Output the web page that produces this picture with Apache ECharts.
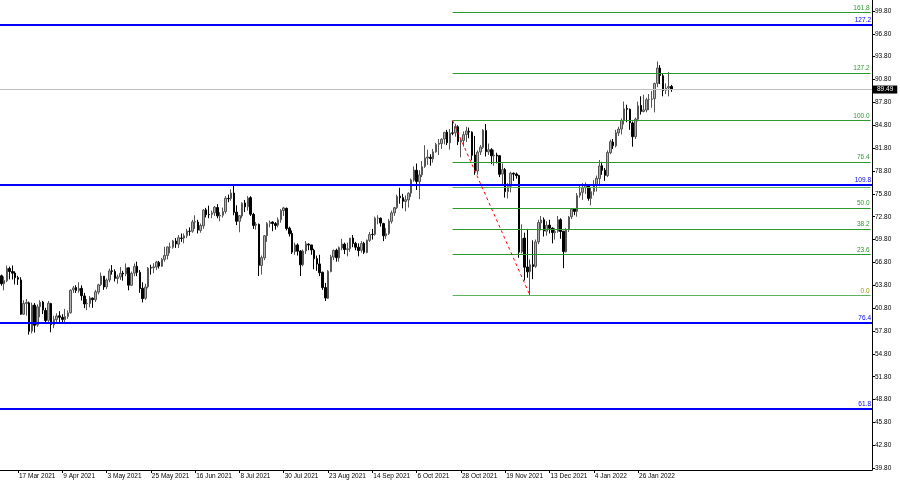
<!DOCTYPE html>
<html><head><meta charset="utf-8">
<script src="https://cdn.jsdelivr.net/npm/echarts@6/dist/echarts.min.js"></script>
<style>html,body{margin:0;padding:0;background:#fff}#c{width:900px;height:485px}</style>
</head><body><div id="c"></div>
<script>
// Daily candles, 9 Mar 2021 .. 11 Feb 2022 (one line per month)
const opens = [
65.05,64.0,64.4,66.0,65.6,65.4,64.8,64.5,60.0,61.4,61.5,57.8,61.2,58.6,61.0,61.6,60.5,
59.2,61.4,58.6,59.3,59.8,59.6,59.3,59.7,60.2,63.2,63.5,63.1,63.4,62.4,61.4,61.4,62.1,61.9,62.9,63.9,65.0,
63.6,64.5,65.7,65.6,64.7,64.9,65.4,65.3,66.1,63.8,65.4,66.3,65.5,63.4,62.1,63.6,66.1,66.1,66.2,66.8,66.3,
67.2,67.7,68.8,68.8,69.6,69.2,70.0,70.0,70.3,70.9,70.9,72.1,72.1,71.0,71.6,73.7,73.1,73.1,73.3,74.0,72.9,73.0,
73.5,75.2,75.2,75.9,73.4,72.2,72.9,74.6,74.1,75.3,73.1,71.7,71.8,66.4,67.4,70.3,71.9,72.1,71.9,71.7,72.4,73.6,
73.9,71.3,70.6,68.2,69.1,68.3,66.5,68.3,69.2,69.1,68.4,67.3,66.6,65.5,63.5,62.1,65.6,67.5,68.4,67.4,68.7,69.2,
68.5,68.6,70.0,69.3,68.8,68.4,69.3,68.1,69.7,70.5,70.5,72.6,72.6,71.9,70.3,70.6,72.2,73.3,74.0,75.5,75.3,74.8,
75.0,75.9,77.6,78.9,77.4,78.3,79.4,80.5,80.6,80.4,81.3,82.3,82.4,83.0,83.9,82.5,83.8,83.8,84.6,82.6,82.8,
83.6,84.0,83.9,80.9,78.8,81.3,81.9,84.1,81.3,81.6,80.8,80.9,80.8,78.4,79.0,76.1,76.8,78.5,78.4,78.2,68.2,70.0,
66.2,65.6,66.5,66.3,69.5,72.0,72.4,70.9,71.7,71.3,70.7,70.9,72.4,70.9,68.2,71.1,72.8,73.8,73.5,75.6,76.0,76.6,77.0,
75.2,76.1,77.0,77.8,79.5,78.9,78.2,81.2,82.6,82.1,83.8,84.3,85.4,87.0,86.9,85.1,83.3,85.6,87.4,86.6,86.8,
88.2,88.2,88.3,90.3,92.3,91.3,89.4,89.7,89.9
];
const highs = [
65.20,64.95,66.40,66.24,66.40,65.64,65.04,64.86,61.84,62.00,61.66,61.52,61.48,61.30,61.84,61.76,60.84,
61.74,61.50,59.80,60.12,60.40,60.00,60.70,60.50,63.26,63.72,63.80,64.20,63.80,62.80,62.00,62.40,62.22,63.20,64.00,65.47,65.00,
64.70,66.00,66.45,65.90,65.20,66.20,65.70,66.66,66.10,65.60,66.66,66.90,65.80,64.20,64.00,66.20,66.50,66.70,67.00,67.00,67.40,
68.87,68.90,69.40,69.76,70.00,70.40,70.60,70.60,71.20,71.40,72.40,72.99,72.40,71.90,73.80,73.96,74.25,73.60,74.20,74.45,73.40,74.00,
75.50,75.70,76.40,76.98,74.30,73.00,74.70,75.00,75.50,75.50,73.30,72.10,71.90,67.70,70.40,72.10,72.30,72.20,72.10,72.70,73.80,74.10,
74.00,71.50,71.00,69.40,69.30,68.40,68.50,69.60,69.30,69.10,68.60,67.70,67.80,65.60,64.10,65.80,67.80,68.50,68.60,68.90,69.90,69.40,
69.40,70.00,70.40,69.50,69.30,69.60,69.50,69.80,70.80,71.20,72.80,73.00,72.70,72.00,71.30,72.50,73.60,74.10,75.70,76.60,75.80,75.60,
76.00,77.80,79.40,79.78,78.90,80.10,82.18,81.60,81.00,81.70,82.50,83.00,83.10,83.90,84.20,84.30,85.41,85.00,84.80,83.00,84.00,
84.60,84.50,84.00,83.40,81.50,82.20,84.30,84.97,82.40,81.80,81.60,81.20,80.90,79.80,79.20,77.20,78.70,78.60,78.60,78.30,71.80,70.70,
71.20,67.20,69.70,69.80,72.40,72.90,72.70,72.20,72.40,71.40,71.30,72.90,72.60,70.90,71.30,72.90,73.90,73.90,75.90,76.90,77.20,77.30,77.00,
76.60,77.60,78.20,80.24,80.00,79.20,81.50,82.90,83.00,84.20,84.60,85.70,87.91,87.50,87.00,85.30,85.80,87.90,88.60,88.80,88.40,
88.90,89.30,90.40,93.17,92.70,91.60,90.30,91.80,90.10
];
const lows = [
63.76,63.14,64.22,64.58,64.56,63.92,63.84,59.93,59.96,59.82,57.32,57.50,57.60,58.36,59.62,60.02,58.86,
59.00,57.63,58.18,58.92,58.98,58.80,58.76,59.40,60.08,62.80,62.80,62.84,61.80,60.80,60.54,60.90,60.84,61.60,62.60,63.70,63.20,
63.30,64.20,65.20,64.30,64.00,64.50,64.40,65.00,63.14,63.70,65.00,65.00,62.81,61.56,61.90,63.40,65.20,65.40,65.80,66.00,66.20,
66.90,67.20,68.00,68.60,68.70,68.70,69.50,69.30,70.00,70.30,70.70,71.20,70.60,70.70,71.20,72.70,72.60,72.60,72.90,72.60,72.20,72.70,
73.20,74.70,74.90,73.00,71.70,70.76,72.60,73.40,73.60,72.90,71.20,71.10,65.01,65.20,67.10,69.50,71.40,70.90,71.10,71.40,72.00,72.90,
71.00,70.20,67.90,67.80,67.70,65.01,66.30,67.90,68.40,67.80,65.90,65.70,65.00,63.20,61.74,62.00,65.50,67.10,66.90,66.90,68.40,67.90,
67.60,68.20,68.80,68.40,67.60,68.10,67.90,68.00,69.50,69.80,70.30,71.80,71.50,69.60,69.90,70.40,71.90,72.90,73.80,74.50,73.90,73.50,
74.00,75.40,77.40,76.30,75.10,78.00,79.20,79.60,79.50,79.90,81.20,80.90,81.70,82.30,82.20,81.60,83.50,83.30,82.20,80.60,82.00,
82.60,83.10,80.20,78.30,78.30,80.90,81.70,80.70,80.90,79.70,79.50,79.80,78.00,76.90,75.30,75.20,76.00,77.50,77.80,67.40,68.00,64.43,
64.80,62.43,64.60,66.10,69.20,71.00,70.20,70.30,70.60,69.30,69.80,70.70,69.90,66.04,68.10,70.80,72.50,73.00,72.80,75.30,75.00,75.80,74.90,
74.30,75.60,76.10,76.80,78.30,77.50,78.00,81.00,81.70,81.90,83.40,83.60,84.90,85.20,84.20,81.99,83.00,85.30,86.20,86.50,86.50,
86.80,87.10,86.50,89.80,90.20,88.60,88.90,88.60,89.20
];
const closes = [
64.01,64.44,66.02,65.61,65.39,64.80,64.60,60.00,61.42,61.55,57.76,61.18,58.56,60.97,61.56,60.55,59.16,
61.45,58.65,59.33,59.77,59.60,59.32,59.70,60.18,63.15,63.46,63.13,63.38,62.44,61.35,61.43,62.14,61.91,62.94,63.86,65.01,63.58,
64.49,65.69,65.63,64.71,64.90,65.37,65.28,66.08,63.82,65.37,66.27,65.49,63.36,62.05,63.58,66.05,66.07,66.21,66.85,66.32,67.20,
67.72,68.83,68.81,69.62,69.23,70.05,69.96,70.29,70.91,70.88,72.12,72.15,71.04,71.64,73.66,73.06,73.08,73.30,74.05,72.91,72.98,73.47,
75.23,75.16,75.90,73.37,72.20,72.94,74.56,74.10,75.25,73.13,71.65,71.81,66.42,67.42,70.30,71.91,72.07,71.91,71.65,72.39,73.62,73.95,
71.26,70.56,68.15,69.09,68.28,66.48,68.29,69.25,69.09,68.44,67.29,66.59,65.46,63.50,62.14,65.64,67.54,68.36,67.42,68.74,69.21,68.50,
68.59,69.99,69.29,68.80,68.35,69.30,68.14,69.72,70.45,70.46,72.61,72.61,71.97,70.29,70.56,72.23,73.30,73.98,75.45,75.29,74.83,75.03,
75.88,77.62,78.93,77.43,78.30,79.35,80.52,80.64,80.44,81.31,82.28,82.44,82.96,83.87,82.50,83.76,83.76,84.65,82.66,82.81,83.57,
84.05,83.91,80.86,78.81,81.27,81.93,84.15,81.34,81.59,80.79,80.88,80.76,78.36,79.01,76.10,76.75,78.50,78.39,78.20,68.15,69.95,66.18,
65.57,66.50,66.26,69.49,72.05,72.36,70.94,71.67,71.29,70.73,70.87,72.38,70.86,68.23,71.12,72.76,73.79,73.50,75.57,75.98,76.56,76.99,75.21,
76.08,76.99,77.85,79.46,78.90,78.23,81.22,82.64,82.12,83.82,84.30,85.43,86.96,86.90,85.14,83.31,85.60,87.35,86.61,86.82,88.15,
88.20,88.26,90.27,92.31,91.32,89.36,89.66,89.88,89.49
];
const firstDay = '2021-03-09';
const skippedDays = ['2021-04-02'];
const barSlots = 315;
const tickLabels = ['17 Mar 2021','9 Apr 2021','3 May 2021','25 May 2021','16 Jun 2021','8 Jul 2021',
  '30 Jul 2021','23 Aug 2021','14 Sep 2021','6 Oct 2021','28 Oct 2021','19 Nov 2021','13 Dec 2021',
  '4 Jan 2022','26 Jan 2022'];
const priceTicks = [39.8,42.8,45.8,48.8,51.8,54.8,57.8,60.8,63.8,66.8,69.8,72.8,75.8,78.8,81.8,84.8,87.8,90.8,93.8,96.8,99.8];
const fibHighDate = '25 Oct 2021', fibHigh = 85.41;
const fibLowDate = '2 Dec 2021', fibLow = 62.43;
const fibRatios = [0, 23.6, 38.2, 50, 61.8, 76.4, 100, 127.2, 161.8];
const fibLabels = ['0.0','23.6','38.2','50.0','','76.4','100.0','127.2','161.8'];
const blueLevels = [97.96, 76.97, 58.85, 47.57];
const blueLabels = ['127.2','109.8','76.4','61.8'];
const lastPrice = 89.49;

// category dates (weekdays)
const MON = ['Jan','Feb','Mar','Apr','May','Jun','Jul','Aug','Sep','Oct','Nov','Dec'];
const cats = [];
let d = new Date(firstDay + 'T00:00:00Z');
while (cats.length < barSlots) {
  const wd = d.getUTCDay();
  const iso = d.toISOString().slice(0,10);
  if (wd !== 0 && wd !== 6 && skippedDays.indexOf(iso) < 0) {
    cats.push(d.getUTCDate() + ' ' + MON[d.getUTCMonth()] + ' ' + d.getUTCFullYear());
  }
  d = new Date(d.getTime() + 86400000);
}
const candles = opens.map((o, i) => [o, closes[i], lows[i], highs[i]]);
const tickSet = new Set(tickLabels);
const lastCat = cats[cats.length - 1];
const FONT = 'Liberation Sans';
const FS = 6.5;
const GREEN = '#2e9a2e';

const levelLines = [];
blueLevels.forEach((v, i) => levelLines.push({
  yAxis: v,
  lineStyle: {color: '#0000ff', width: 2, type: 'solid', opacity: 1},
  label: {show: true, position: 'insideEndTop', formatter: blueLabels[i], color: '#0000ff',
    fontSize: FS, fontFamily: FONT, distance: 1}
}));
levelLines.push({
  yAxis: lastPrice,
  lineStyle: {color: '#c0c0c0', width: 1, type: 'solid', opacity: 1},
  label: {show: true, position: 'end', formatter: lastPrice.toFixed(2), color: '#fff',
    backgroundColor: '#000', padding: [1, 4, 0, 4], fontSize: FS, fontFamily: FONT, distance: 1}
});
const fibLines = [];
fibRatios.forEach((r, i) => {
  const lvl = fibLow + (fibHigh - fibLow) * r / 100;
  fibLines.push([{
    coord: [fibHighDate, lvl],
    lineStyle: {color: r === 0 || r === 61.8 ? '#5fb35f' : GREEN, width: 1, type: 'solid', opacity: 1},
    label: {show: fibLabels[i] !== '', position: 'insideEndTop', formatter: fibLabels[i],
      color: r === 0 ? '#999900' : GREEN, fontSize: FS, fontFamily: FONT, distance: 1}
  }, {coord: [lastCat, lvl]}]);
});
fibLines.push([{
  coord: [fibHighDate, fibHigh],
  lineStyle: {color: '#ff0000', width: 1, type: [3, 3], opacity: 1},
  label: {show: false}
}, {coord: [fibLowDate, fibLow]}]);

const chart = echarts.init(document.getElementById('c'), null, {renderer: 'canvas'});
chart.setOption({
  animation: false,
  backgroundColor: '#fff',
  grid: {left: 0, top: 0, right: 28, bottom: 15, containLabel: false, outerBoundsMode: 'none'},
  xAxis: {
    type: 'category', data: cats, boundaryGap: true,
    axisLine: {show: true, lineStyle: {color: '#000', width: 1}},
    axisTick: {show: true, alignWithLabel: true, length: 3, lineStyle: {color: '#000'},
      interval: (i, v) => tickSet.has(v)},
    axisLabel: {interval: (i, v) => tickSet.has(v), align: 'left', padding: [0, 0, 0, 1],
      margin: 3, color: '#000', fontSize: FS, fontFamily: FONT},
    splitLine: {show: false}
  },
  yAxis: {
    type: 'value', position: 'right', min: 39.56, max: 101.24, scale: true,
    axisLine: {show: true, lineStyle: {color: '#000', width: 1}},
    axisTick: {show: true, length: 3, customValues: priceTicks, lineStyle: {color: '#000'}},
    axisLabel: {customValues: priceTicks, formatter: v => v.toFixed(2), margin: 3,
      color: '#000', fontSize: FS, fontFamily: FONT},
    splitLine: {show: false}
  },
  series: [{
    type: 'line', data: [], silent: true, symbol: 'none', z: 1,
    markLine: {symbol: ['none', 'none'], silent: true, animation: false, data: levelLines.concat(fibLines)}
  }, {
    type: 'candlestick',
    data: candles,
    barWidth: 2, z: 2,
    itemStyle: {color: '#b0b0b0', color0: '#000', borderColor: '#555', borderColor0: '#000', borderWidth: 1}
  }]
});
</script></body></html>
